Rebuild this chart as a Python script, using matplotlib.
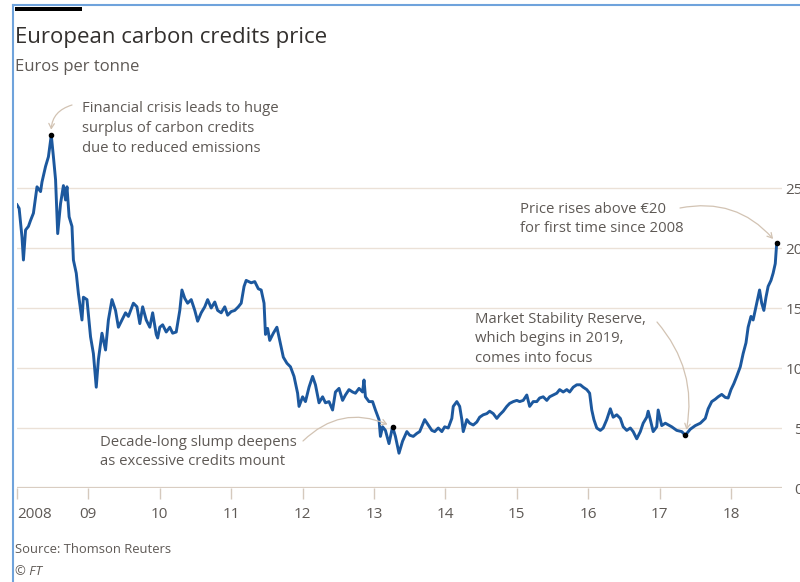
"""FT-style line chart: European carbon credits price (EUR per tonne), 2008-2018."""
import numpy as np
import matplotlib

matplotlib.use("Agg")
import matplotlib.pyplot as plt  # noqa: E402
from matplotlib.lines import Line2D  # noqa: E402
from matplotlib.patches import Rectangle  # noqa: E402

plt.rcParams["font.family"] = ["Open Sans", "DejaVu Sans"]

# --- data (decimal years) ---------------------------------------------------
years = [
    2008.00, 2008.03, 2008.07, 2008.09, 2008.12, 2008.16, 2008.19, 2008.23,
    2008.28, 2008.33, 2008.35, 2008.40, 2008.44, 2008.48, 2008.51, 2008.54,
    2008.57, 2008.61, 2008.65, 2008.68, 2008.70, 2008.73, 2008.77, 2008.79,
    2008.83, 2008.86, 2008.91, 2008.93, 2008.98, 2009.03, 2009.07, 2009.11,
    2009.14, 2009.19, 2009.24, 2009.28, 2009.33, 2009.38, 2009.42, 2009.47,
    2009.52, 2009.56, 2009.63, 2009.68, 2009.72, 2009.76, 2009.81, 2009.86,
    2009.90, 2009.95, 2009.97, 2010.00, 2010.04, 2010.09, 2010.14, 2010.18,
    2010.23, 2010.28, 2010.31, 2010.35, 2010.39, 2010.44, 2010.49, 2010.53,
    2010.58, 2010.63, 2010.67, 2010.72, 2010.77, 2010.81, 2010.86, 2010.91,
    2010.95, 2011.00, 2011.05, 2011.10, 2011.14, 2011.18, 2011.21, 2011.28,
    2011.33, 2011.38, 2011.42, 2011.46, 2011.48, 2011.51, 2011.54, 2011.59,
    2011.64, 2011.68, 2011.73, 2011.78, 2011.83, 2011.88, 2011.93, 2011.95,
    2012.00, 2012.04, 2012.09, 2012.14, 2012.18, 2012.23, 2012.28, 2012.32,
    2012.37, 2012.42, 2012.46, 2012.51, 2012.56, 2012.60, 2012.65, 2012.70,
    2012.74, 2012.79, 2012.84, 2012.86, 2012.88, 2012.93, 2012.98, 2013.02,
    2013.07, 2013.09, 2013.12, 2013.16, 2013.21, 2013.26, 2013.30, 2013.35,
    2013.40, 2013.46, 2013.50, 2013.55, 2013.60, 2013.64, 2013.69, 2013.71,
    2013.76, 2013.81, 2013.85, 2013.90, 2013.95, 2013.99, 2014.04, 2014.09,
    2014.11, 2014.16, 2014.20, 2014.23, 2014.25, 2014.27, 2014.30, 2014.34,
    2014.39, 2014.44, 2014.48, 2014.53, 2014.58, 2014.62, 2014.67, 2014.72,
    2014.76, 2014.81, 2014.86, 2014.90, 2014.95, 2015.00, 2015.04, 2015.09,
    2015.14, 2015.18, 2015.23, 2015.28, 2015.32, 2015.37, 2015.42, 2015.46,
    2015.51, 2015.56, 2015.60, 2015.65, 2015.70, 2015.74, 2015.79, 2015.84,
    2015.89, 2015.93, 2015.98, 2016.02, 2016.05, 2016.08, 2016.12, 2016.17,
    2016.21, 2016.26, 2016.31, 2016.35, 2016.40, 2016.45, 2016.49, 2016.54,
    2016.59, 2016.63, 2016.68, 2016.73, 2016.77, 2016.82, 2016.84, 2016.87,
    2016.91, 2016.96, 2016.98, 2017.03, 2017.08, 2017.17, 2017.24, 2017.31,
    2017.36, 2017.43, 2017.50, 2017.57, 2017.64, 2017.68, 2017.73, 2017.78,
    2017.82, 2017.87, 2017.92, 2017.96, 2018.00, 2018.04, 2018.08, 2018.13,
    2018.17, 2018.21, 2018.24, 2018.28, 2018.31, 2018.36, 2018.40, 2018.43,
    2018.46, 2018.49, 2018.52, 2018.56, 2018.59, 2018.62, 2018.64,
]
prices = [
    23.6, 23.3, 20.9, 19.0, 21.5, 21.8, 22.3, 22.9,
    25.1, 24.7, 25.5, 26.8, 27.6, 29.4, 27.6, 25.7,
    21.2, 23.7, 25.2, 24.0, 25.1, 22.6, 21.8, 19.0,
    17.9, 16.2, 14.0, 15.9, 15.7, 12.6, 11.2, 8.4,
    10.7, 12.9, 11.5, 14.0, 15.7, 14.8, 13.4, 14.0,
    14.6, 14.3, 15.4, 15.1, 13.7, 15.1, 14.0, 13.4,
    14.6, 12.8, 12.5, 13.4, 13.6, 13.0, 13.4, 12.9,
    13.0, 14.8, 16.5, 15.8, 15.4, 15.7, 14.8, 13.9,
    14.6, 15.1, 15.7, 15.0, 15.5, 14.8, 14.6, 15.1,
    14.4, 14.7, 14.8, 15.1, 15.4, 16.8, 17.3, 17.1,
    17.2, 16.6, 16.5, 15.4, 12.8, 13.3, 12.3, 12.9,
    13.4, 12.3, 10.9, 10.4, 10.1, 9.3, 7.9, 6.8,
    7.6, 7.2, 8.4, 9.3, 8.6, 7.1, 7.6, 7.1,
    7.2, 6.5, 8.0, 8.3, 7.3, 7.75, 8.2, 8.0,
    7.9, 8.3, 8.0, 9.0, 7.6, 7.2, 7.2, 6.5,
    5.7, 4.3, 5.1, 4.8, 3.7, 5.1, 4.3, 2.9,
    3.9, 4.7, 4.4, 4.3, 4.55, 4.7, 5.4, 5.7,
    5.25, 4.8, 4.7, 5.0, 4.7, 5.1, 5.0, 5.8,
    6.8, 7.2, 6.8, 5.7, 4.7, 5.1, 5.7, 5.4,
    5.25, 5.5, 5.9, 6.1, 6.2, 6.4, 6.2, 5.8,
    6.1, 6.4, 6.8, 7.05, 7.2, 7.3, 7.2, 7.3,
    7.75, 6.8, 7.2, 7.2, 7.5, 7.6, 7.3, 7.6,
    7.75, 7.9, 8.2, 8.0, 8.2, 8.0, 8.4, 8.6,
    8.6, 8.4, 8.2, 7.9, 6.5, 5.7, 5.0, 4.8,
    5.0, 5.7, 6.6, 5.9, 6.1, 5.8, 5.1, 4.8,
    5.0, 4.7, 4.1, 4.7, 5.4, 5.9, 6.4, 5.7,
    4.7, 5.1, 6.5, 5.2, 5.4, 5.1, 4.8, 4.7,
    4.4, 4.9, 5.2, 5.4, 5.8, 6.6, 7.2, 7.4,
    7.6, 7.8, 7.55, 7.5, 8.2, 8.7, 9.3, 10.1,
    11.2, 12.1, 13.4, 14.3, 14.0, 15.4, 16.5, 15.4,
    14.8, 15.9, 16.8, 17.3, 17.9, 18.7, 20.4,
]

year_ticks = list(range(2008, 2019))
year_labels = ["2008", "09", "10", "11", "12", "13", "14", "15", "16", "17", "18"]
price_ticks = [0, 5, 10, 15, 20, 25]

# annotated points: the peak, the 2013 slump, the 2017 low and the last value
slump_year = 2013.26
msr_year = 2017.36

BLUE = "#1c589e"
GRID = "#ebe1d7"
AXIS = "#d5c9bd"
ARROW = "#d2c3b3"
TEXT = "#5e5955"
DARK = "#33302e"

W, H = 800, 582


def px(x, y):
    """figure pixel (from top-left) -> figure fraction"""
    return x / W, 1 - y / H


fig = plt.figure(figsize=(W / 100, H / 100), dpi=100)
ax = fig.add_axes([17 / W, 94 / H, 765 / W, 360 / H])

ax.plot(years, prices, color=BLUE, lw=2.1, solid_joinstyle="round", zorder=3)

ax.set_xlim(2008, 2008 + 765 / 71.4)
ax.set_ylim(0, 30)
for s in ax.spines.values():
    s.set_visible(False)

ax.set_yticks(price_ticks)
ax.set_yticklabels([str(t) for t in price_ticks])
ax.yaxis.tick_right()
ax.tick_params(axis="y", length=0, pad=15, labelsize=11, labelcolor=TEXT)
for lab in ax.get_yticklabels():
    lab.set_horizontalalignment("right")
ax.grid(axis="y", color=GRID, lw=1.0, zorder=0)
ax.axhline(0, color=AXIS, lw=1.6, zorder=1)

ax.set_xticks(year_ticks)
ax.set_xticklabels(year_labels)
ax.tick_params(axis="x", length=8, width=1, color=AXIS, pad=6,
               labelsize=11, labelcolor=TEXT)
ax.get_xticklabels()[0].set_horizontalalignment("left")

# black dots on the annotated points
yrs = np.array(years)
i_peak = int(np.argmax(prices))
i_slump = int(np.argmin(np.abs(yrs - slump_year)))
i_msr = int(np.argmin(np.abs(yrs - msr_year)))
i_end = len(years) - 1
for i in (i_peak, i_slump, i_msr, i_end):
    ax.plot(years[i], prices[i], "o", color="black", ms=3, zorder=4, clip_on=False)


# --- annotations ------------------------------------------------------------
def note(lines, x, y0, step=20):
    for k, t in enumerate(lines):
        fig.text(*px(x, y0 + k * step), t, fontsize=10.7, color=TEXT, va="baseline")


def arrow(i, start, rad):
    ax.annotate("", xy=(years[i], prices[i]), xycoords="data",
                xytext=px(*start), textcoords="figure fraction",
                arrowprops=dict(arrowstyle="->,head_length=0.35,head_width=0.2",
                                color=ARROW, lw=0.9, shrinkA=0, shrinkB=4,
                                connectionstyle=f"arc3,rad={rad}"),
                annotation_clip=False)


note(["Financial crisis leads to huge", "surplus of carbon credits",
      "due to reduced emissions"], 82, 112)
arrow(i_peak, (72, 105), 0.4)

note(["Price rises above €20", "for first time since 2008"], 520, 213, 19)
arrow(i_end, (680, 208), -0.3)

note(["Market Stability Reserve,", "which begins in 2019,", "comes into focus"],
     475, 323, 19.5)
arrow(i_msr, (657, 322), -0.25)

note(["Decade-long slump deepens", "as excessive credits mount"], 100, 446, 19)
arrow(i_slump, (303, 441), -0.35)

# --- titles, source, frame --------------------------------------------------
fig.text(*px(15, 43), "European carbon credits price", fontsize=16,
         color=DARK, va="baseline")
fig.text(*px(15, 71), "Euros per tonne", fontsize=12, color=TEXT, va="baseline")
fig.text(*px(15, 553), "Source: Thomson Reuters", fontsize=9.4, color=TEXT,
         va="baseline")
fig.text(*px(15, 575), "© FT", fontsize=9.4, color=TEXT, va="baseline",
         style="italic")

fig.add_artist(Rectangle(px(15, 11), 67 / W, 4 / H, transform=fig.transFigure,
                         color="black", lw=0))
fig.add_artist(Line2D([13 / W, 13 / W], [0, 1 - 5 / H], transform=fig.transFigure,
                      color="#6fa3dc", lw=1.5))
fig.add_artist(Line2D([13 / W, 1], [1 - 5 / H, 1 - 5 / H], transform=fig.transFigure,
                      color="#6fa3dc", lw=1.5))

fig.savefig("out.png", dpi=100, facecolor="white")
